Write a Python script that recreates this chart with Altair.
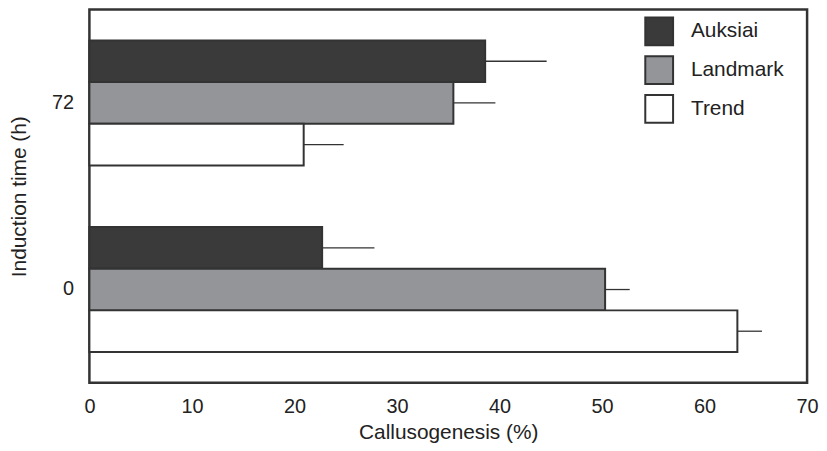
import altair as alt
import pandas as pd

times = ["72", "72", "72", "0", "0", "0"]
cultivars = ["Auksiai", "Landmark", "Trend", "Auksiai", "Landmark", "Trend"]
values = [38.6, 35.5, 20.9, 22.7, 50.3, 63.2]
errors = [6.0, 4.1, 3.9, 5.1, 2.4, 2.4]

df = pd.DataFrame({"time": times, "cultivar": cultivars, "value": values, "err": errors})
df["hi"] = df["value"] + df["err"]

FONT = "Liberation Sans"
ydom = ["72", "0"]
cdom = ["Auksiai", "Landmark", "Trend"]

y_enc = alt.Y("time:N", sort=ydom,
              scale=alt.Scale(domain=ydom, paddingInner=0.33, paddingOuter=0.165),
              axis=alt.Axis(title="Induction time (h)", labelAngle=0, ticks=False, domain=False,
                            labelPadding=16, titlePadding=22, labelFontSize=20, titleFontSize=21,
                            labelFont=FONT, titleFont=FONT, labelColor="#222", titleColor="#222",
                            titleFontWeight="normal"))
yo_enc = alt.YOffset("cultivar:N", sort=cdom,
                     scale=alt.Scale(domain=cdom, paddingInner=0, paddingOuter=0))

x_scale = alt.Scale(domain=[0, 70], nice=False, zero=True)
x_axis = alt.Axis(title="Callusogenesis (%)", values=[0, 10, 20, 30, 40, 50, 60, 70],
                  ticks=False, domain=False, grid=False, labelPadding=14, titlePadding=5,
                  labelFontSize=20, titleFontSize=21, labelFont=FONT, titleFont=FONT,
                  labelColor="#222", titleColor="#222", titleFontWeight="normal",
                  labelFlush=False)

bars = alt.Chart(df).mark_bar(stroke="#333333", strokeWidth=2).encode(
    x=alt.X("value:Q", scale=x_scale, axis=x_axis),
    y=y_enc,
    yOffset=yo_enc,
    color=alt.Color("cultivar:N", sort=cdom,
                    scale=alt.Scale(domain=cdom, range=["#3a3a3a", "#939598", "#ffffff"]),
                    legend=alt.Legend(title=None, orient="none", legendX=559, legendY=7,
                                      symbolType="square", symbolSize=784,
                                      symbolStrokeColor="#333333", symbolStrokeWidth=2,
                                      symbolOpacity=1,
                                      labelFontSize=21, labelFont=FONT, labelColor="#222",
                                      labelOffset=17, rowPadding=3, padding=0)),
)

errs = alt.Chart(df).mark_rule(color="#333333", strokeWidth=1.3).encode(
    x=alt.X("value:Q", scale=x_scale),
    x2="hi:Q",
    y=alt.Y("time:N", sort=ydom),
    yOffset=alt.YOffset("cultivar:N", sort=cdom),
)

chart = alt.layer(bars, errs).properties(
    width=723, height=376, padding={"left": 0, "top": 0, "right": 0, "bottom": 0}
).configure_view(stroke="#333333", strokeWidth=2.5).configure_axis(grid=False)

chart.save("out.html", embed_options={"renderer": "svg", "actions": False})
